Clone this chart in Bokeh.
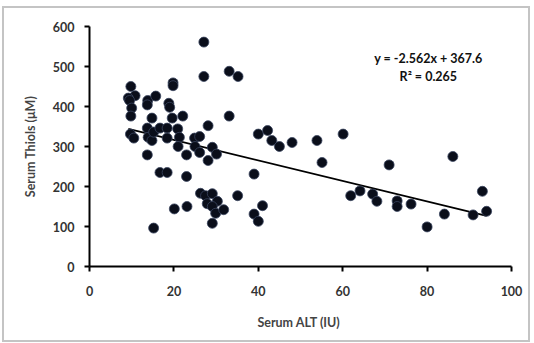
from bokeh.plotting import figure
from bokeh.models import ColumnDataSource, Range1d, FixedTicker
from bokeh.core.properties import value
from bokeh.embed import file_html
from bokeh.resources import INLINE

# Serum ALT (IU)
alt = [
    9.8, 10.8, 9.2, 9.5, 10.0, 9.8, 9.7, 10.5,
    13.8, 13.7, 15.7, 14.8, 13.7, 13.9, 14.8, 15.2, 13.7, 15.2,
    16.7, 18.4, 18.4, 18.8, 19.0, 19.8, 19.8, 19.6, 16.7, 18.4, 20.1,
    22.1, 20.9, 21.3, 21.0, 23.0, 23.0, 23.1,
    24.9, 25.0, 26.1, 26.1, 28.1, 28.1, 29.1, 30.1,
    26.3, 27.5, 29.1, 30.3, 27.9, 29.1, 29.9, 31.8, 29.1,
    27.1, 27.1, 33.1, 35.2, 33.1, 35.1,
    39.0, 39.0, 40.0, 41.0, 40.0, 42.2, 43.2, 45.0, 48.0, 53.9, 55.1,
    60.1, 61.9, 64.1, 67.1, 68.1, 71.0, 72.9, 72.9, 76.2, 80.0,
    84.1, 86.1, 90.9, 93.1, 94.1,
]
# Serum Thiols (uM)
thiols = [
    450, 427, 421, 415, 396, 376, 331, 321,
    415, 404, 426, 371, 346, 323, 315, 336, 279, 96,
    346, 346, 321, 408, 398, 459, 452, 371, 235, 235, 144,
    376, 344, 323, 300, 279, 225, 150,
    321, 300, 325, 285, 352, 265, 298, 281,
    183, 177, 182, 163, 157, 150, 133, 142, 108,
    561, 475, 488, 475, 376, 177,
    231, 131, 113, 152, 331, 340, 315, 300, 310, 315, 260,
    331, 177, 189, 181, 163, 254, 164, 150, 156, 99,
    131, 275, 129, 188, 138,
]

# Trendline from the stated equation
slope = -2.562
intercept = 367.6
trend_x = [min(alt), max(alt)]
trend_y = [slope * v + intercept for v in trend_x]

eq_lines = ["y = -2.562x + 367.6", "R\u00b2 = 0.265"]
eq_x = [80.3, 80.3]
eq_y = [520, 475]

x_ticks = [0, 20, 40, 60, 80, 100]
y_ticks = [0, 100, 200, 300, 400, 500, 600]

FONT = "Lato"

p = figure(width=524, height=332, output_backend="svg", toolbar_location=None,
           x_range=Range1d(0, 100), y_range=Range1d(0, 600),
           min_border_left=85, min_border_right=17,
           min_border_top=18, min_border_bottom=74)
p.margin = (8, 0, 0, 4)
p.styles = {"outline": "2px solid #c4c4c4"}
p.outline_line_color = None
p.xgrid.visible = False
p.ygrid.visible = False
p.background_fill_color = "white"
p.border_fill_color = "white"

p.line(trend_x, trend_y, line_color="black", line_width=1.6)

src = ColumnDataSource(dict(x=alt, y=thiols))
p.scatter("x", "y", source=src, size=10, fill_color="#0a0e1a",
          line_color="#3a4560", line_width=0.8)

tsrc = ColumnDataSource(dict(x=eq_x, y=eq_y, t=eq_lines))
p.text("x", "y", text="t", source=tsrc, text_align="center",
       text_baseline="middle", text_font=value(FONT), text_font_style="bold",
       text_font_size="12.5px", text_color="#111111")

for ax in (p.xaxis[0], p.yaxis[0]):
    ax.axis_line_color = "black"
    ax.axis_line_width = 2
    ax.major_tick_line_color = "black"
    ax.major_tick_line_width = 2
    ax.major_tick_out = 5
    ax.major_tick_in = 0
    ax.minor_tick_line_color = None
    ax.major_label_text_font = FONT
    ax.major_label_text_font_style = "bold"
    ax.major_label_text_font_size = "12.5px"
    ax.major_label_text_color = "#333333"
    ax.axis_label_text_font = FONT
    ax.axis_label_text_font_style = "bold"
    ax.axis_label_text_font_size = "12.5px"
    ax.axis_label_text_color = "#444444"

p.xaxis.ticker = FixedTicker(ticks=x_ticks)
p.yaxis.ticker = FixedTicker(ticks=y_ticks)
p.xaxis.axis_label = "Serum  ALT (IU)"
p.yaxis.axis_label = "Serum Thiols (\u03bcM)"
p.xaxis.major_label_standoff = 14
p.yaxis.major_label_standoff = 10
p.xaxis.axis_label_standoff = 16
p.yaxis.axis_label_standoff = 12

open("out.html", "w").write(file_html(p, INLINE))
